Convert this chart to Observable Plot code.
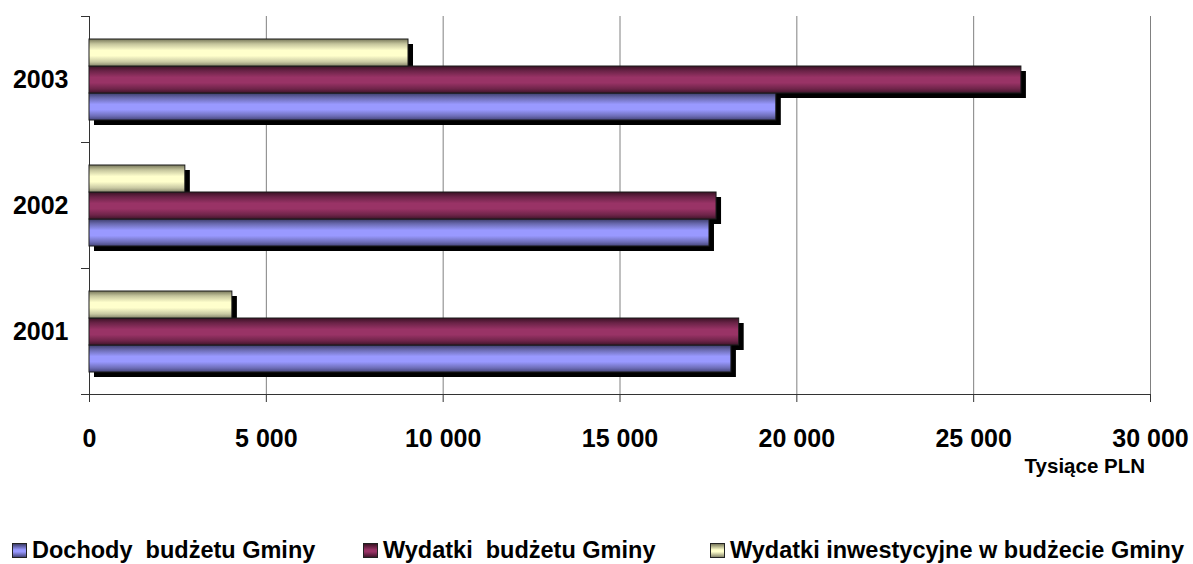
<!DOCTYPE html>
<html>
<head>
<meta charset="utf-8">
<script src="https://cdn.jsdelivr.net/npm/d3@7"></script>
<script src="https://cdn.jsdelivr.net/npm/@observablehq/plot@0.6"></script>
<style>
  html, body { margin: 0; padding: 0; background: #fff; }
  #wrap { position: relative; width: 1193px; height: 564px; font-family: "Liberation Sans", Arial, sans-serif; font-weight: bold; }
  #legend { position: absolute; left: 0; top: 536px; width: 1193px; height: 28px; }
  .item { position: absolute; top: 0; display: flex; align-items: center; font-size: 23.5px; color: #000; white-space: pre; line-height: 28px; }
  .sw { width: 13px; height: 13px; border: 1px solid #222; margin-right: 5px; }
  #xtitle { position: absolute; right: 48px; top: 456px; font-size: 20.5px; line-height: 20px; color: #000; white-space: pre; }
</style>
</head>
<body>
<div id="wrap"></div>
<script>
// ---- data ----
const years = ["2001", "2002", "2003"];
const seriesNames = ["Dochody  budżetu Gminy", "Wydatki  budżetu Gminy", "Wydatki inwestycyjne w budżecie Gminy"];
const dochody = [18150, 17530, 19420];
const wydatki = [18370, 17730, 26350];
const inwestycyjne = [4040, 2710, 9020];
const xTicks = [0, 5000, 10000, 15000, 20000, 25000, 30000];
const axisTitle = "Tysiące PLN";

const seriesValues = [dochody, wydatki, inwestycyjne];
const gradIds = ["gBlue", "gMaroon", "gYellow"];
const rows = [];
years.forEach((y, i) => seriesValues.forEach((vals, s) => rows.push({year: y, series: seriesNames[s], value: vals[i]})));

const fmt = d => d3.format(",")(d).replace(/,/g, " ");
const font = {fontSize: 25, fontWeight: "bold", fontFamily: "Liberation Sans, Arial, sans-serif"};

const plot = Plot.plot({
  width: 1193,
  height: 564,
  marginTop: 15,
  marginBottom: 169,
  marginLeft: 89,
  marginRight: 43,
  style: {fontFamily: "Liberation Sans, Arial, sans-serif", background: "#fff", color: "#000"},
  x: {domain: [0, 30000]},
  fy: {domain: [...years].reverse(), padding: 0},
  y: {domain: [...seriesNames].reverse(), paddingInner: 0, paddingOuter: 0.77, axis: null},
  color: {domain: seriesNames, range: gradIds.map(id => `url(#${id})`)},
  marks: [
    Plot.gridX(xTicks.slice(1), {stroke: "#808080", strokeOpacity: 1, strokeWidth: 1}),
    Plot.ruleX([0], {stroke: "#333", strokeWidth: 1}),
    Plot.barX(rows, {fy: "year", y: "series", x: "value", fill: "#000", dx: 5, dy: 5}),
    Plot.barX(rows, {fy: "year", y: "series", x: "value", fill: "series", stroke: "#1a1a1a", strokeWidth: 1}),
    Plot.axisFy({anchor: "left", tickSize: 0, tickPadding: 21, label: null, ...font}),
    Plot.axisX({anchor: "bottom", ticks: xTicks, tickSize: 8, tickPadding: 27, tickFormat: fmt, label: null, stroke: "#333", ...font})
  ]
});

// gradient definitions and axis frame lines, placed using Plot's scales
const svg = d3.select(plot);
const defs = svg.insert("defs", ":first-child");
const stops = {
  gBlue:   ["#3c3c6a", "#6a6ab0", "#9999ff", "#9999ff", "#6e6eb8", "#45457a"],
  gMaroon: ["#3a1224", "#6a2347", "#993366", "#993366", "#6e2449", "#40152b"],
  gYellow: ["#77775a", "#c4c49c", "#ffffcc", "#ffffcc", "#c8c8a2", "#85856a"]
};
const offs = [0, 0.18, 0.42, 0.62, 0.85, 1];
for (const id of gradIds) {
  const g = defs.append("linearGradient").attr("id", id).attr("x1", 0).attr("y1", 0).attr("x2", 0).attr("y2", 1);
  stops[id].forEach((c, k) => g.append("stop").attr("offset", offs[k]).attr("stop-color", c));
}
const xs = plot.scale("x"), fys = plot.scale("fy");
const x0 = xs.apply(0), xEnd = xs.apply(30000);
const bounds = [];
fys.domain.forEach(v => { bounds.push(fys.apply(v)); });
bounds.push(fys.apply(fys.domain[fys.domain.length - 1]) + fys.bandwidth);
const g = svg.append("g").attr("stroke", "#333").attr("stroke-width", 1);
bounds.forEach(b => g.append("line").attr("x1", x0 - 8).attr("x2", x0).attr("y1", b + 0.5).attr("y2", b + 0.5));
g.append("line").attr("x1", x0 - 8).attr("x2", xEnd).attr("y1", bounds[bounds.length - 1] + 0.5).attr("y2", bounds[bounds.length - 1] + 0.5);

const wrap = document.getElementById("wrap");
wrap.appendChild(plot);

// axis title
const xt = document.createElement("div");
xt.id = "xtitle";
xt.textContent = axisTitle;
wrap.appendChild(xt);

// legend (HTML)
const legend = document.createElement("div");
legend.id = "legend";
const lefts = [12, 363, 710];
seriesNames.forEach((name, i) => {
  const it = document.createElement("div");
  it.className = "item";
  it.style.left = lefts[i] + "px";
  const sw = document.createElement("div");
  sw.className = "sw";
  const c = stops[gradIds[i]];
  sw.style.background = `linear-gradient(to bottom, ${c[0]}, ${c[2]} 45%, ${c[3]} 60%, ${c[5]})`;
  const t = document.createElement("span");
  t.textContent = name;
  it.appendChild(sw);
  it.appendChild(t);
  legend.appendChild(it);
});
wrap.appendChild(legend);
</script>
</body>
</html>
